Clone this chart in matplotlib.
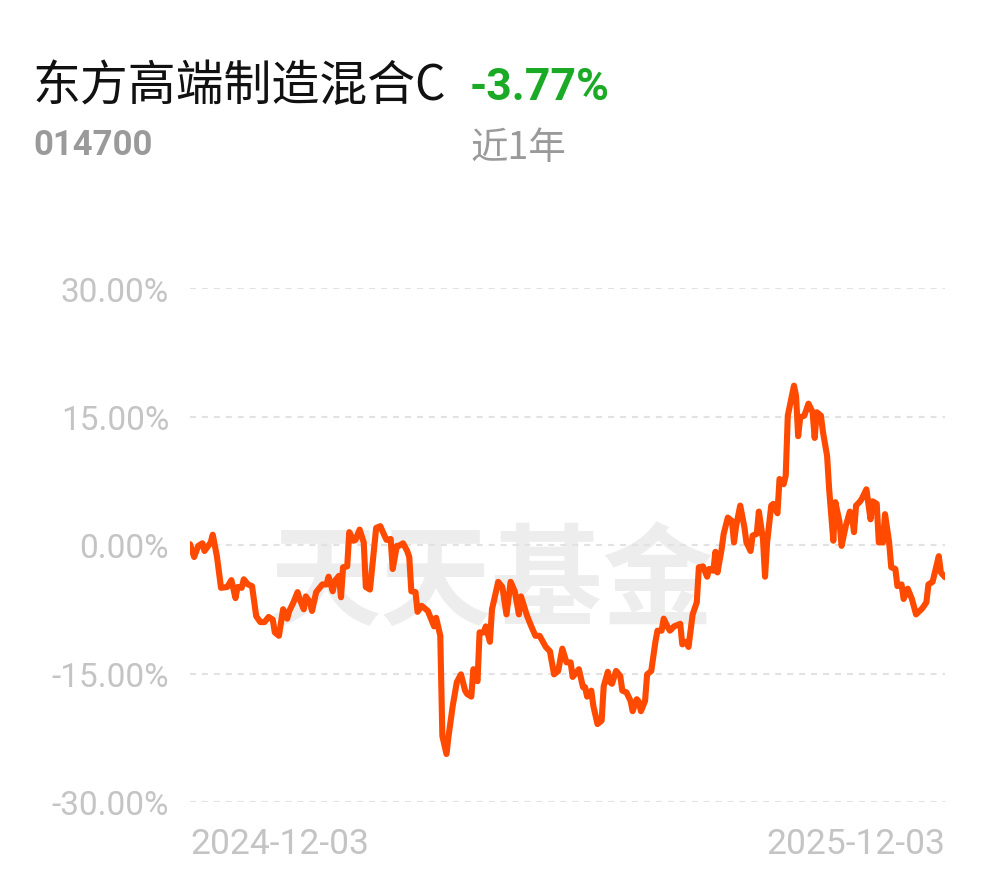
import matplotlib
matplotlib.use("Agg")
import matplotlib.pyplot as plt
import pandas as pd

plt.rcParams['font.family'] = ['Roboto', 'Noto Sans CJK SC', 'DejaVu Sans']
plt.rcParams['lines.scale_dashes'] = False

title = "东方高端制造混合C"
code = "014700"
change = "-3.77%"
period = "近1年"
watermark = "天天基金"
start_date = "2024-12-03"
end_date = "2025-12-03"

# days since start date
days = [0, 2, 4, 6, 7, 10, 11, 13, 15, 18, 20, 22, 23, 25, 26, 28, 30, 32, 34, 36,
        38, 40, 41, 43, 45, 47, 48, 50, 52, 53, 55, 56, 58, 59, 61, 64, 66, 67, 69, 70,
        72, 73, 74, 76, 77, 79, 80, 82, 84, 85, 87, 88, 90, 92, 94, 95, 97, 98, 100, 101,
        103, 105, 106, 107, 109, 110, 112, 115, 117, 118, 119, 121, 122, 124, 125, 127, 129, 131, 133, 134,
        136, 137, 139, 140, 142, 143, 145, 146, 149, 151, 153, 155, 157, 159, 160, 163, 165, 167, 169, 172,
        174, 176, 178, 180, 182, 184, 185, 188, 190, 191, 192, 194, 195, 197, 199, 200, 202, 203, 204, 206,
        208, 209, 211, 213, 214, 216, 217, 218, 220, 221, 223, 225, 226, 228, 229, 231, 232, 234, 237, 238,
        240, 241, 243, 245, 246, 248, 250, 251, 253, 254, 255, 257, 258, 260, 262, 263, 264, 266, 268, 269,
        271, 272, 274, 275, 277, 278, 279, 281, 282, 284, 285, 287, 288, 289, 291, 292, 293, 294, 295, 297,
        299, 301, 302, 303, 305, 306, 308, 309, 311, 312, 314, 315, 317, 319, 320, 321, 322, 324, 325, 327,
        329, 330, 332, 333, 335, 336, 338, 339, 341, 342, 344, 345, 347, 349, 351, 354, 356, 357, 359, 362,
        363, 365]

returns = [0.1, -1.4, -0.1, 0.2, -0.7, 0.3, 1.2, -1.3, -5.0, -4.9, -4.1, -6.2, -4.9, -5.0, -4.0, -4.6, -4.8, -8.3, -9.0, -9.0,
           -8.4, -8.7, -10.2, -10.6, -7.5, -8.6, -7.7, -6.7, -5.5, -6.3, -7.5, -6.0, -6.7, -7.7, -5.5, -4.6, -4.6, -3.7, -5.4, -4.2,
           -3.6, -6.1, -2.6, -2.5, 1.5, 0.5, 0.6, 1.8, 0.3, -4.9, -5.2, -2.8, 2.0, 2.2, 1.1, 0.6, 0.7, -2.8, -0.1, -0.1,
           0.2, -0.7, -1.4, -5.4, -5.5, -7.8, -7.1, -7.7, -8.9, -9.5, -8.5, -10.6, -22.3, -24.4, -22.3, -18.8, -16.0, -15.1, -17.0, -17.4,
           -17.7, -14.5, -15.9, -10.2, -10.2, -9.5, -11.3, -7.5, -4.3, -4.9, -8.1, -4.3, -5.4, -8.1, -6.0, -8.3, -9.5, -10.6, -10.6, -11.9,
           -12.4, -15.1, -14.7, -12.1, -13.7, -13.7, -15.4, -14.5, -16.6, -16.6, -17.7, -17.0, -18.8, -20.9, -20.5, -16.5, -14.8, -16.0, -16.2, -14.7,
           -15.3, -17.0, -17.2, -18.2, -19.4, -18.0, -18.3, -19.4, -18.2, -15.1, -14.7, -11.3, -10.0, -10.0, -8.6, -9.6, -10.0, -9.5, -9.2, -11.6,
           -11.3, -11.9, -8.1, -6.7, -2.6, -2.5, -3.7, -2.8, -3.0, -0.8, -3.2, -0.5, 1.3, 3.2, 2.8, 0.3, 2.2, 4.6, 2.1, 0.3,
           -0.7, 1.1, 1.3, 3.9, 0.7, -3.7, 0.3, 4.6, 4.8, 3.7, 7.7, 7.1, 8.1, 15.1, 17.4, 18.6, 17.4, 12.7, 14.9, 15.1,
           16.5, 15.5, 12.5, 15.5, 15.1, 13.2, 10.4, 6.5, 0.5, 5.0, 2.7, -0.1, 2.2, 3.9, 3.4, 1.5, 4.6, 5.1, 5.5, 6.5,
           3.0, 5.1, 4.8, 0.3, 0.3, 3.6, 0.3, -2.6, -2.8, -4.8, -4.6, -6.3, -5.1, -6.3, -8.1, -7.4, -6.7, -4.6, -4.3, -1.3,
           -3.2, -3.77]

y_ticks = [-30, -15, 0, 15, 30]

dates = pd.Timestamp(start_date) + pd.to_timedelta(days, unit="D")

W, H = 990, 878
fig = plt.figure(figsize=(W / 100, H / 100), dpi=100)
fig.patch.set_facecolor("white")
ax = fig.add_axes([190 / W, (H - 803) / H, (945 - 190) / W, (803 - 289) / H])
ax.set_facecolor("none")

ax.set_xlim(pd.Timestamp(start_date), pd.Timestamp(end_date))
ax.set_ylim(-30, 30)

# watermark
ax.text(0.40, 0.425, watermark, transform=ax.transAxes, ha="center", va="center",
        fontsize=80, color="#ededed", fontweight="bold", family=["Noto Sans CJK SC"], zorder=0)

for t in y_ticks:
    ax.axhline(t, color="#e2e2e2", lw=1.5, linestyle=(0, (4.3, 4.3)), zorder=1)

ax.plot(dates, returns, color="#FF4A00", lw=4.4, solid_joinstyle="round", solid_capstyle="round", zorder=3)

for s in ax.spines.values():
    s.set_visible(False)

ax.set_yticks(y_ticks)
ax.set_yticklabels([f"{t:.2f}%" for t in y_ticks])
ax.tick_params(axis="y", length=0, pad=15, labelsize=24, labelcolor="#c4c4c4")

ax.set_xticks([pd.Timestamp(start_date), pd.Timestamp(end_date)])
ax.set_xticklabels([start_date, end_date])
ax.tick_params(axis="x", length=0, pad=18, labelsize=25.5, labelcolor="#c4c4c4")
xl = ax.get_xticklabels()
xl[0].set_ha("left")
xl[1].set_ha("right")

fig.text(33 / W, 1 - 86 / H, title, fontsize=34.5, color="#111111", va="center", ha="left",
         family=["Noto Sans CJK SC"])
fig.text(470 / W, 1 - 88 / H, change, fontsize=32, color="#1AAA26", va="center", ha="left",
         fontweight="bold", family=["Roboto"])
fig.text(33 / W, 1 - 146 / H, code, fontsize=25, color="#9a9a9a", va="center", ha="left",
         fontweight="bold", family=["Roboto"])
fig.text(470 / W, 1 - 148 / H, period, fontsize=27, color="#9a9a9a", va="center", ha="left",
         family=["Noto Sans CJK SC", "Roboto"])

fig.savefig("out.png", dpi=100, facecolor="white")
